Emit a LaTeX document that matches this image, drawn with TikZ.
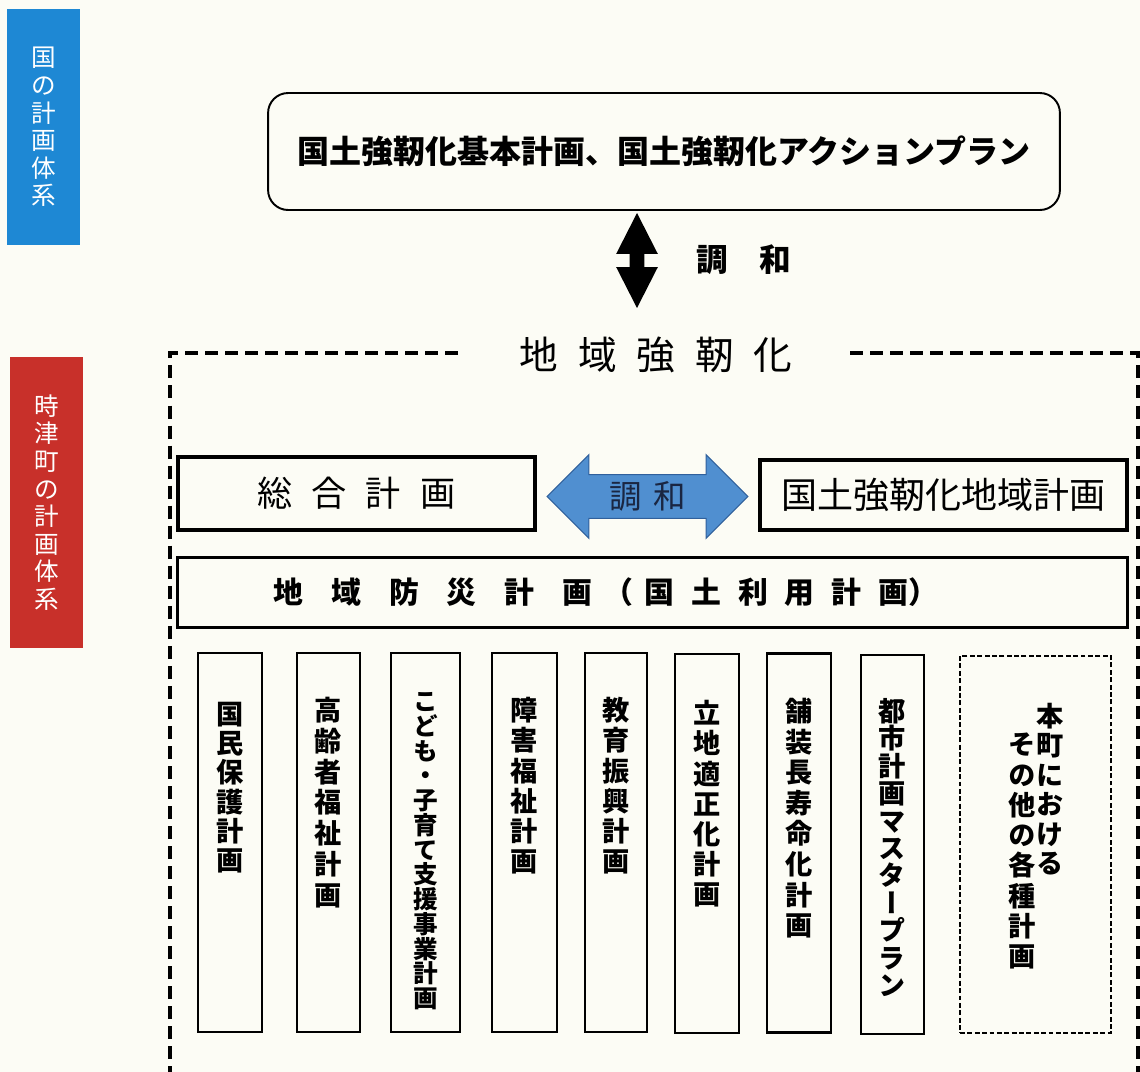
\documentclass[tikz,border=0pt]{standalone}
\usepackage{fontspec}
\usepackage{xcolor}
\usetikzlibrary{shapes.arrows,positioning}
\newfontfamily\jpfont{Noto Sans CJK JP}
\newfontfamily\jpvfont[RawFeature=+vert]{Noto Sans CJK JP}
\setlength{\lineskiplimit}{-20pt}

\definecolor{kuniblue}{RGB}{30,136,212}
\definecolor{machired}{RGB}{200,48,42}
\definecolor{choublue}{RGB}{80,143,208}
\definecolor{chouedge}{RGB}{48,96,156}
\definecolor{choutext}{RGB}{26,38,66}
\definecolor{paper}{RGB}{252,252,245}

% characters set apart by a fixed gap
\newcommand{\spreadtext}[2]{\def\spreadgap{#1}\spreadfirst#2\relax}
\def\spreadfirst#1{#1\spreadrest}
\def\spreadrest#1{\ifx#1\relax\else\hspace{\spreadgap}#1\expandafter\spreadrest\fi}

\tikzset{
  sidelabel/.style={fill=#1, text=white, minimum width=1.46cm, align=center, inner sep=0pt,
    font=\jpfont\fontsize{14pt}{15.7pt}\selectfont},
  bigbox/.style={draw, line width=1.8pt, inner sep=0pt},
  planbox/.style={draw, line width=1.2pt, minimum width=1.28cm, minimum height=7.58cm, inner sep=0pt},
  tate/.style={align=center, inner sep=0pt, anchor=north,
    font=\jpvfont\bfseries\fontsize{15.5pt}{#1}\selectfont},
  tate/.default=17.2pt,
  region/.style={line width=2pt, dash pattern=on 7.4pt off 4pt},
}

\begin{document}
\begin{tikzpicture}[x=0.02cm, y=-0.02cm]
  \useasboundingbox (0,0) rectangle (1140,1072);
  \fill[paper] (0,0) rectangle (1140,1072);

  % Marking the two side labels
  \node[sidelabel=kuniblue, minimum height=4.72cm] (kunikei) at (43.5,127) {国\\の\\計\\画\\体\\系};%
  \node[sidelabel=machired, minimum height=5.82cm] (machikei) at (46.5,502.5) {時\\津\\町\\の\\計\\画\\体\\系};%

  % Drawing national plan box
  \node[draw, line width=1.1pt, rounded corners=0.4cm, minimum width=15.84cm, minimum height=2.34cm,
    font=\jpfont\bfseries\fontsize{18.2pt}{20pt}\selectfont] (kihon) at (664,151.5)
    {国土強靭化基本計画、国土強靭化アクションプラン};%

  % Drawing black double arrow
  \node[double arrow, rotate=90, fill=black, minimum height=1.9cm, minimum width=0.82cm,
    double arrow head extend=0.27cm, double arrow tip angle=54, inner xsep=0pt, inner ysep=0.14cm] (kyouchou) at (637,260.5) {};%
  \node[font=\jpfont\bfseries\fontsize{18pt}{20pt}\selectfont] (kyouchoulabel) at (744,260) {調　和};%

  % Drawing dashed region
  \draw[region] (458,353) -- (170,353) -- (170,1110);%
  \draw[region] (850,353) -- (1138,353) -- (1138,1110);%
  \node[font=\jpfont\fontsize{22pt}{24pt}\selectfont] (chiiki) at (656,355) {\spreadtext{0.4cm}{地域強靭化}};%

  % Drawing town plan boxes
  \node[bigbox, minimum width=7.14cm, minimum height=1.46cm,
    font=\jpfont\fontsize{20pt}{22pt}\selectfont] (sougou) at (356.5,493.5) {\spreadtext{0.38cm}{総合計画}};%
  \node[bigbox, minimum width=7.34cm, minimum height=1.40cm,
    font=\jpfont\fontsize{20.5pt}{22pt}\selectfont] (chiikikeikaku) at (943.5,495) {国土強靭化地域計画};%
  \node[double arrow, fill=choublue, draw=chouedge, line width=0.6pt, minimum height=4.02cm, minimum width=1.66cm,
    double arrow head extend=0.4cm, double arrow tip angle=90, inner xsep=0pt, inner ysep=0.13cm,
    text=choutext, font=\jpfont\fontsize{18.5pt}{20pt}\selectfont] (chouwa) at (647.5,496.5) {調\hspace{0.24cm}和};%

  \node[bigbox, minimum width=19.02cm, minimum height=1.40cm] (bousai) at (652.5,592.5) {};%
  \node[anchor=west, inner sep=0pt, font=\jpfont\bfseries\fontsize{17pt}{19pt}\selectfont] (bousaitext) at (273,592)
    {\spreadtext{0.56cm}{地域防災計画}\hspace{0.22cm}（\hspace{0.22cm}\spreadtext{0.34cm}{国土利用計画}）};%

  % Drawing the single plans
  \node[planbox] (kokumin) at (230,842.5) {};%
  \node[tate=16.6pt] at (230,702) {国\\民\\保\\護\\計\\画};%
  \node[planbox, minimum width=1.26cm] (koureisha) at (328.5,842.5) {};%
  \node[tate=17.5pt] at (328.5,697) {高\\齢\\者\\福\\祉\\計\\画};%
  \node[planbox, minimum width=1.38cm] (kodomo) at (425.5,842.5) {};%
  \node[tate, font=\jpvfont\bfseries\fontsize{14pt}{14.1pt}\selectfont] at (425.5,692) {こ\\ど\\も\\・\\子\\育\\て\\支\\援\\事\\業\\計\\画};%
  \node[planbox, minimum width=1.30cm] (shougai) at (524.5,842.5) {};%
  \node[tate] at (524.5,697) {障\\害\\福\\祉\\計\\画};%
  \node[planbox, minimum width=1.24cm] (kyouiku) at (616,842.5) {};%
  \node[tate] at (616,697) {教\\育\\振\\興\\計\\画};%
  \node[planbox] (ricchi) at (707,843.5) {};%
  \node[tate] at (707,700) {立\\地\\適\\正\\化\\計\\画};%
  \node[planbox] (hosou) at (799,843) {};%
  \node[tate=17.4pt] at (799,698) {舗\\装\\長\\寿\\命\\化\\計\\画};%
  \node[planbox, minimum width=1.26cm] (toshi) at (892.5,844.5) {};%
  \node[tate=15.6pt] at (892.5,698) {都\\市\\計\\画\\マ\\ス\\タ\\ー\\プ\\ラ\\ン};%

  % Drawing dashed box for other plans
  \node[draw, line width=0.9pt, dash pattern=on 2.8pt off 1.4pt, minimum width=3.02cm, minimum height=7.54cm] (sonota) at (1035.5,844.5) {};%
  \node[tate=16.7pt] at (1050,703) {本\\町\\に\\お\\け\\る};%
  \node[tate] at (1022,733) {そ\\の\\他\\の\\各\\種\\計\\画};%
\end{tikzpicture}
\end{document}
